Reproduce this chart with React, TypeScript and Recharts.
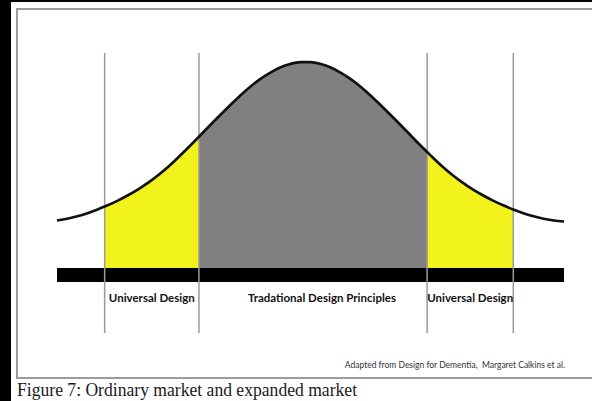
import { ComposedChart, Area, Line, XAxis, YAxis, ReferenceLine, ReferenceArea } from "recharts"

// position along the market (in spread units) and the height of the bell curve above the bar
const X_POS = [
  -2.5, -2.4, -2.3, -2.2, -2.1, -2.03, -2.0, -1.9, -1.8, -1.7, -1.6, -1.5, -1.4, -1.3, -1.2, -1.1,
  -1.0, -0.9, -0.8, -0.7, -0.6, -0.5, -0.4, -0.3, -0.2, -0.1, 0.0, 0.1, 0.2, 0.3, 0.4, 0.5,
  0.6, 0.7, 0.8, 0.9, 1.0, 1.1, 1.15, 1.2, 1.3, 1.4, 1.5, 1.6, 1.7, 1.8, 1.9, 2.0, 2.1, 2.2,
  2.3, 2.4, 2.5,
]
const CURVE = [
  47.5, 49.3, 51.7, 54.8, 58.5, 61.4, 62.7, 67.4, 72.7, 78.7, 85.3, 93, 101.5, 111, 121, 131.3,
  141.8, 152, 162, 171.8, 180.8, 188.7, 195.2, 200.5, 204, 205.8, 205.8, 204, 200.5, 195.2, 188.7, 180.8,
  171.8, 162, 152, 141.8, 131.3, 121, 116, 111, 101.5, 93, 85.3, 78.7, 72.7, 67.4, 62.7, 58.5, 54.8, 51.7,
  49.3, 47.5, 46.5,
]

// segment borders
const UD_LEFT = [-2.03, -1.1]
const TRAD = [-1.1, 1.15]
const UD_RIGHT = [1.15, 2]

const SEGMENT_LABELS = ["Universal Design", "Tradational Design Principles", "Universal Design"]

const inRange = (x: number, r: number[]) => x >= r[0] && x <= r[1]

const data = X_POS.map((x, i) => ({
  x,
  curve: CURVE[i],
  udLeft: inRange(x, UD_LEFT) ? CURVE[i] : null,
  trad: inRange(x, TRAD) ? CURVE[i] : null,
  udRight: inRange(x, UD_RIGHT) ? CURVE[i] : null,
}))

const labelStyle = { position: "center" as const, fill: "#111", fontSize: 11.5, fontWeight: 700, fontFamily: "Lato" }

export default function App() {
  return (
    <div style={{ position: "fixed", top: 0, left: 0, width: 592, height: 401, background: "#000", overflow: "hidden" }}>
      <div style={{ position: "absolute", left: 11, top: 2, right: 0, bottom: 0, background: "#fff" }} />
      <div
        style={{
          position: "absolute", left: 16, top: 8, width: 620, height: 371,
          border: "2px solid #9c9c9c", boxSizing: "border-box",
        }}
      />
      <div style={{ position: "absolute", left: 0, top: 0 }}>
        <ComposedChart
          width={592}
          height={401}
          data={data}
          margin={{ top: 53, right: 28, bottom: 68, left: 57 }}
          style={{ fontFamily: "Lato" }}
        >
          <XAxis type="number" dataKey="x" domain={[-2.5, 2.5]} hide />
          <YAxis type="number" domain={[-65, 215]} hide />
          {[UD_LEFT[0], UD_LEFT[1], UD_RIGHT[0], UD_RIGHT[1]].map((x) => (
            <ReferenceLine key={x} x={x} stroke="#9a9a9a" strokeWidth={1.5} />
          ))}
          <Area type="monotone" dataKey="udLeft" stroke="none" fill="#f2f21c" fillOpacity={1} baseValue={0} isAnimationActive={false} />
          <Area type="monotone" dataKey="trad" stroke="none" fill="#808080" fillOpacity={1} baseValue={0} isAnimationActive={false} />
          <Area type="monotone" dataKey="udRight" stroke="none" fill="#f2f21c" fillOpacity={1} baseValue={0} isAnimationActive={false} />
          <ReferenceArea x1={-2.5} x2={2.5} y1={-14} y2={0} fill="#000" fillOpacity={1} stroke="none" />
          <ReferenceArea x1={UD_LEFT[0]} x2={UD_LEFT[1]} y1={-40} y2={-20} fill="none" stroke="none"
            label={{ ...labelStyle, value: SEGMENT_LABELS[0] }} />
          <ReferenceArea x1={TRAD[0]} x2={TRAD[1]} y1={-40} y2={-20} fill="none" stroke="none"
            label={{ ...labelStyle, value: SEGMENT_LABELS[1], dx: 9 }} />
          <ReferenceArea x1={UD_RIGHT[0]} x2={UD_RIGHT[1]} y1={-40} y2={-20} fill="none" stroke="none"
            label={{ ...labelStyle, value: SEGMENT_LABELS[2] }} />
          <Line type="monotone" dataKey="curve" stroke="#111" strokeWidth={2.7} dot={false} isAnimationActive={false} />
        </ComposedChart>
      </div>
      <div
        style={{
          position: "absolute", right: 27, top: 360, fontFamily: "Lato", fontSize: 8.5,
          color: "#333", whiteSpace: "nowrap",
        }}
      >
        Adapted from Design for Dementia,&nbsp; Margaret Calkins et al.
      </div>
      <div
        style={{
          position: "absolute", left: 17, top: 380, fontFamily: "Liberation Serif", fontSize: 17.6,
          lineHeight: 1, color: "#1a1a1a", whiteSpace: "nowrap",
          transform: "scaleY(1.12)", transformOrigin: "top left",
        }}
      >
        Figure 7: Ordinary market and expanded market
      </div>
    </div>
  )
}
